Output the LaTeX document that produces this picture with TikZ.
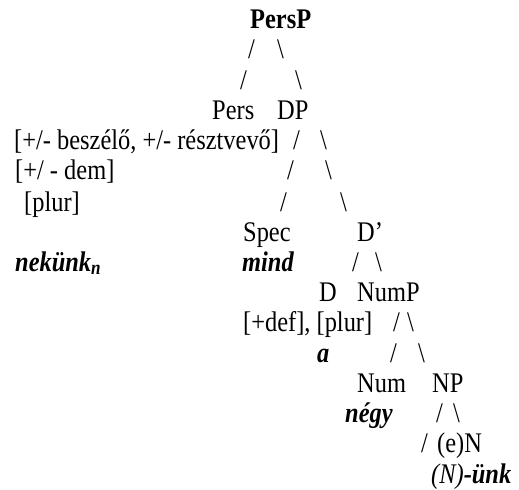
\documentclass[tikz,border=0pt]{standalone}
\usepackage{fontspec}
\setmainfont{Liberation Serif}[FakeStretch=0.86]
\usepackage{tikz}

\tikzset{
  w/.style={anchor=base west, inner sep=0pt, font=\fontsize{28.5}{34}\selectfont},
  ex/.style={w, font=\fontsize{28.5}{34}\selectfont\bfseries\itshape}
}

\begin{document}
\begin{tikzpicture}[x=1bp,y=-1bp]
  \useasboundingbox (0,0) rectangle (519,490);
  \node[w, font=\fontsize{28.5}{34}\selectfont\bfseries] (persp) at (250,29) {PersP};
  \node[w] (sl1) at (248,59) {/};  \node[w] (bs1) at (277,59) {\textbackslash};
  \node[w] (sl2) at (240,90) {/};  \node[w] (bs2) at (295,90) {\textbackslash};
  \node[w] (pers) at (212,120) {Pers};
  \node[w] (dp) at (277,120) {DP};
  \node[w] (feat1) at (14,150) {[+/- beszélő, +/- résztvevő]};
  \node[w] (sl3) at (293,150) {/};  \node[w] (bs3) at (320,150) {\textbackslash};
  \node[w] (feat2) at (15,180) {[+/ - dem]};
  \node[w] (sl4) at (287,180) {/};  \node[w] (bs4) at (325,180) {\textbackslash};
  \node[w] (feat3) at (24,211) {[plur]};
  \node[w] (sl5) at (280,211) {/};  \node[w] (bs5) at (340,211) {\textbackslash};
  \node[w] (spec) at (243,241) {Spec};
  \node[w] (dbar) at (357,241) {D’};
  \node[ex] (nekunk) at (15,271) {nekünk\textsubscript{n}};
  \node[ex] (mind) at (242,271) {mind};
  \node[w] (sl6) at (352,271) {/};  \node[w] (bs6) at (375,271) {\textbackslash};
  \node[w] (d) at (319,301) {D};
  \node[w] (nump) at (357,301) {NumP};
  \node[w] (feat4) at (243,331) {[+def], [plur]};
  \node[w] (sl7) at (393,331) {/};  \node[w] (bs7) at (407,331) {\textbackslash};
  \node[ex] (a) at (317,362) {a};
  \node[w] (sl8) at (390,362) {/};  \node[w] (bs8) at (418,362) {\textbackslash};
  \node[w] (num) at (357,392) {Num};
  \node[w] (np) at (432,392) {NP};
  \node[ex] (negy) at (345,422) {négy};
  \node[w] (sl9) at (436,422) {/};  \node[w] (bs9) at (453,422) {\textbackslash};
  \node[w] (sl10) at (421,452) {/};
  \node[w] (en) at (437,452) {(e)N};
  \node[w] (unk) at (431,483) {\textit{(N)}\textbf{\textit{-ünk}}};
\end{tikzpicture}
\end{document}
